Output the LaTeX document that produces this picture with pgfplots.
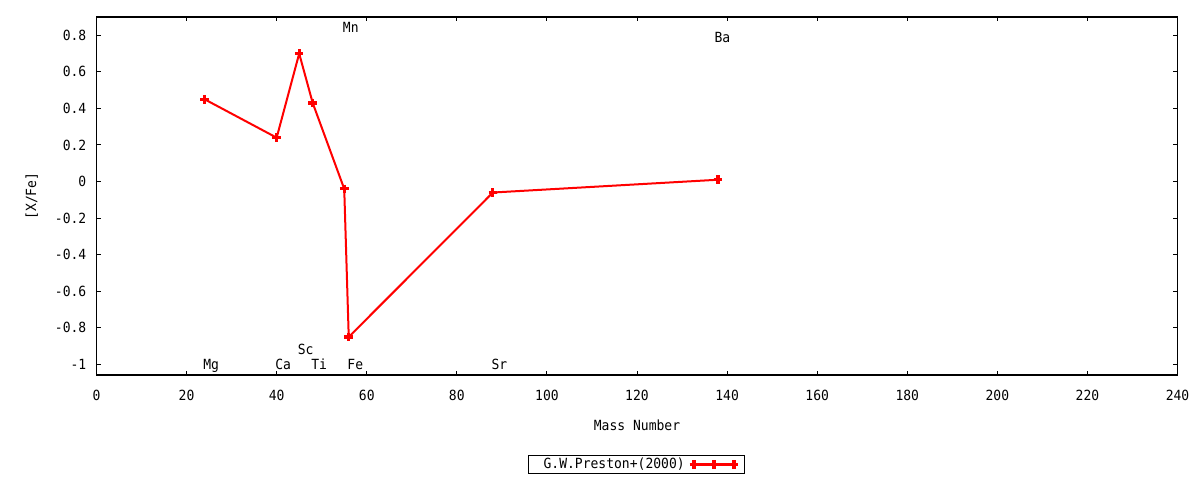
\documentclass[border=0pt]{standalone}
\usepackage{fontspec}
\setmainfont{DejaVu Sans Mono}[FakeStretch=0.93]
\usepackage{pgfplots}
\pgfplotsset{compat=1.18}

\pgfplotstableread{
mass xfe
24  0.45
40  0.24
45  0.70
48  0.43
55  -0.04
56  -0.85
88  -0.06
138 0.01
}\preston

\begin{document}
\fontsize{14bp}{16bp}\selectfont
\begin{tikzpicture}
\begin{axis}[
  scale only axis,
  width=1081bp, height=358bp,
  xmin=0, xmax=240,
  ymin=-1.058, ymax=0.9,
  xtick={0,20,...,240},
  ytick={-1,-0.8,-0.6,-0.4,-0.2,0,0.2,0.4,0.6,0.8},
  yticklabels={-1,-0.8,-0.6,-0.4,-0.2,0,0.2,0.4,0.6,0.8},
  /pgf/number format/assume math mode=true,
  tick pos=both, tick align=inside,
  major tick length=4.5bp,
  minor tick num=0,
  axis line style={line width=1.2bp},
  every tick/.style={black, line width=1bp},
  xticklabel style={anchor=base, inner sep=0pt, yshift=-25bp},
  yticklabel style={anchor=east, inner sep=0pt, xshift=-10bp},
  xlabel={Mass Number},
  ylabel={[X/Fe]},
  xlabel style={at={(axis description cs:0.5,0)}, anchor=center, yshift=-50bp},
  ylabel style={at={(axis description cs:-0.06,0.5)}, anchor=center},
  legend plot pos=right,
  legend style={at={(axis description cs:0.4995,-0.25)}, anchor=center,
    draw=black, line width=1bp, inner xsep=6bp, inner ysep=1bp,
    font=\fontsize{14bp}{16bp}\selectfont},
  legend image code/.code={
    \draw[#1, line width=2.6bp, mark repeat=1, mark phase=1] plot coordinates {(0bp,0bp) (20bp,0bp) (40bp,0bp)};
  },
]
\addplot[red, line width=2bp, mark=+, mark size=4.3bp,
  mark options={line width=3.2bp, solid}] table[x=mass, y=xfe] {\preston};
\addlegendentry{\hspace*{7bp}G.W.Preston+(2000)\hspace*{3bp}}

\begin{scope}[every node/.style={anchor=base west, inner sep=0pt, xshift=-1.5bp, yshift=-5bp}]
  \node at (axis cs:24,-1) {Mg};
  \node at (axis cs:40,-1) {Ca};
  \node at (axis cs:45,-0.92) {Sc};
  \node at (axis cs:48,-1) {Ti};
  \node at (axis cs:55,0.84) {Mn};
  \node at (axis cs:56,-1) {Fe};
  \node at (axis cs:88,-1) {Sr};
  \node at (axis cs:137.5,0.79) {Ba};
\end{scope}
\end{axis}
\pgfresetboundingbox
\path (current axis.south west) ++(-96.5bp,-105bp) coordinate (bl);
\path (current axis.north east) ++(22.5bp,17bp) coordinate (tr);
\path (bl) rectangle (tr);
\end{tikzpicture}
\end{document}
